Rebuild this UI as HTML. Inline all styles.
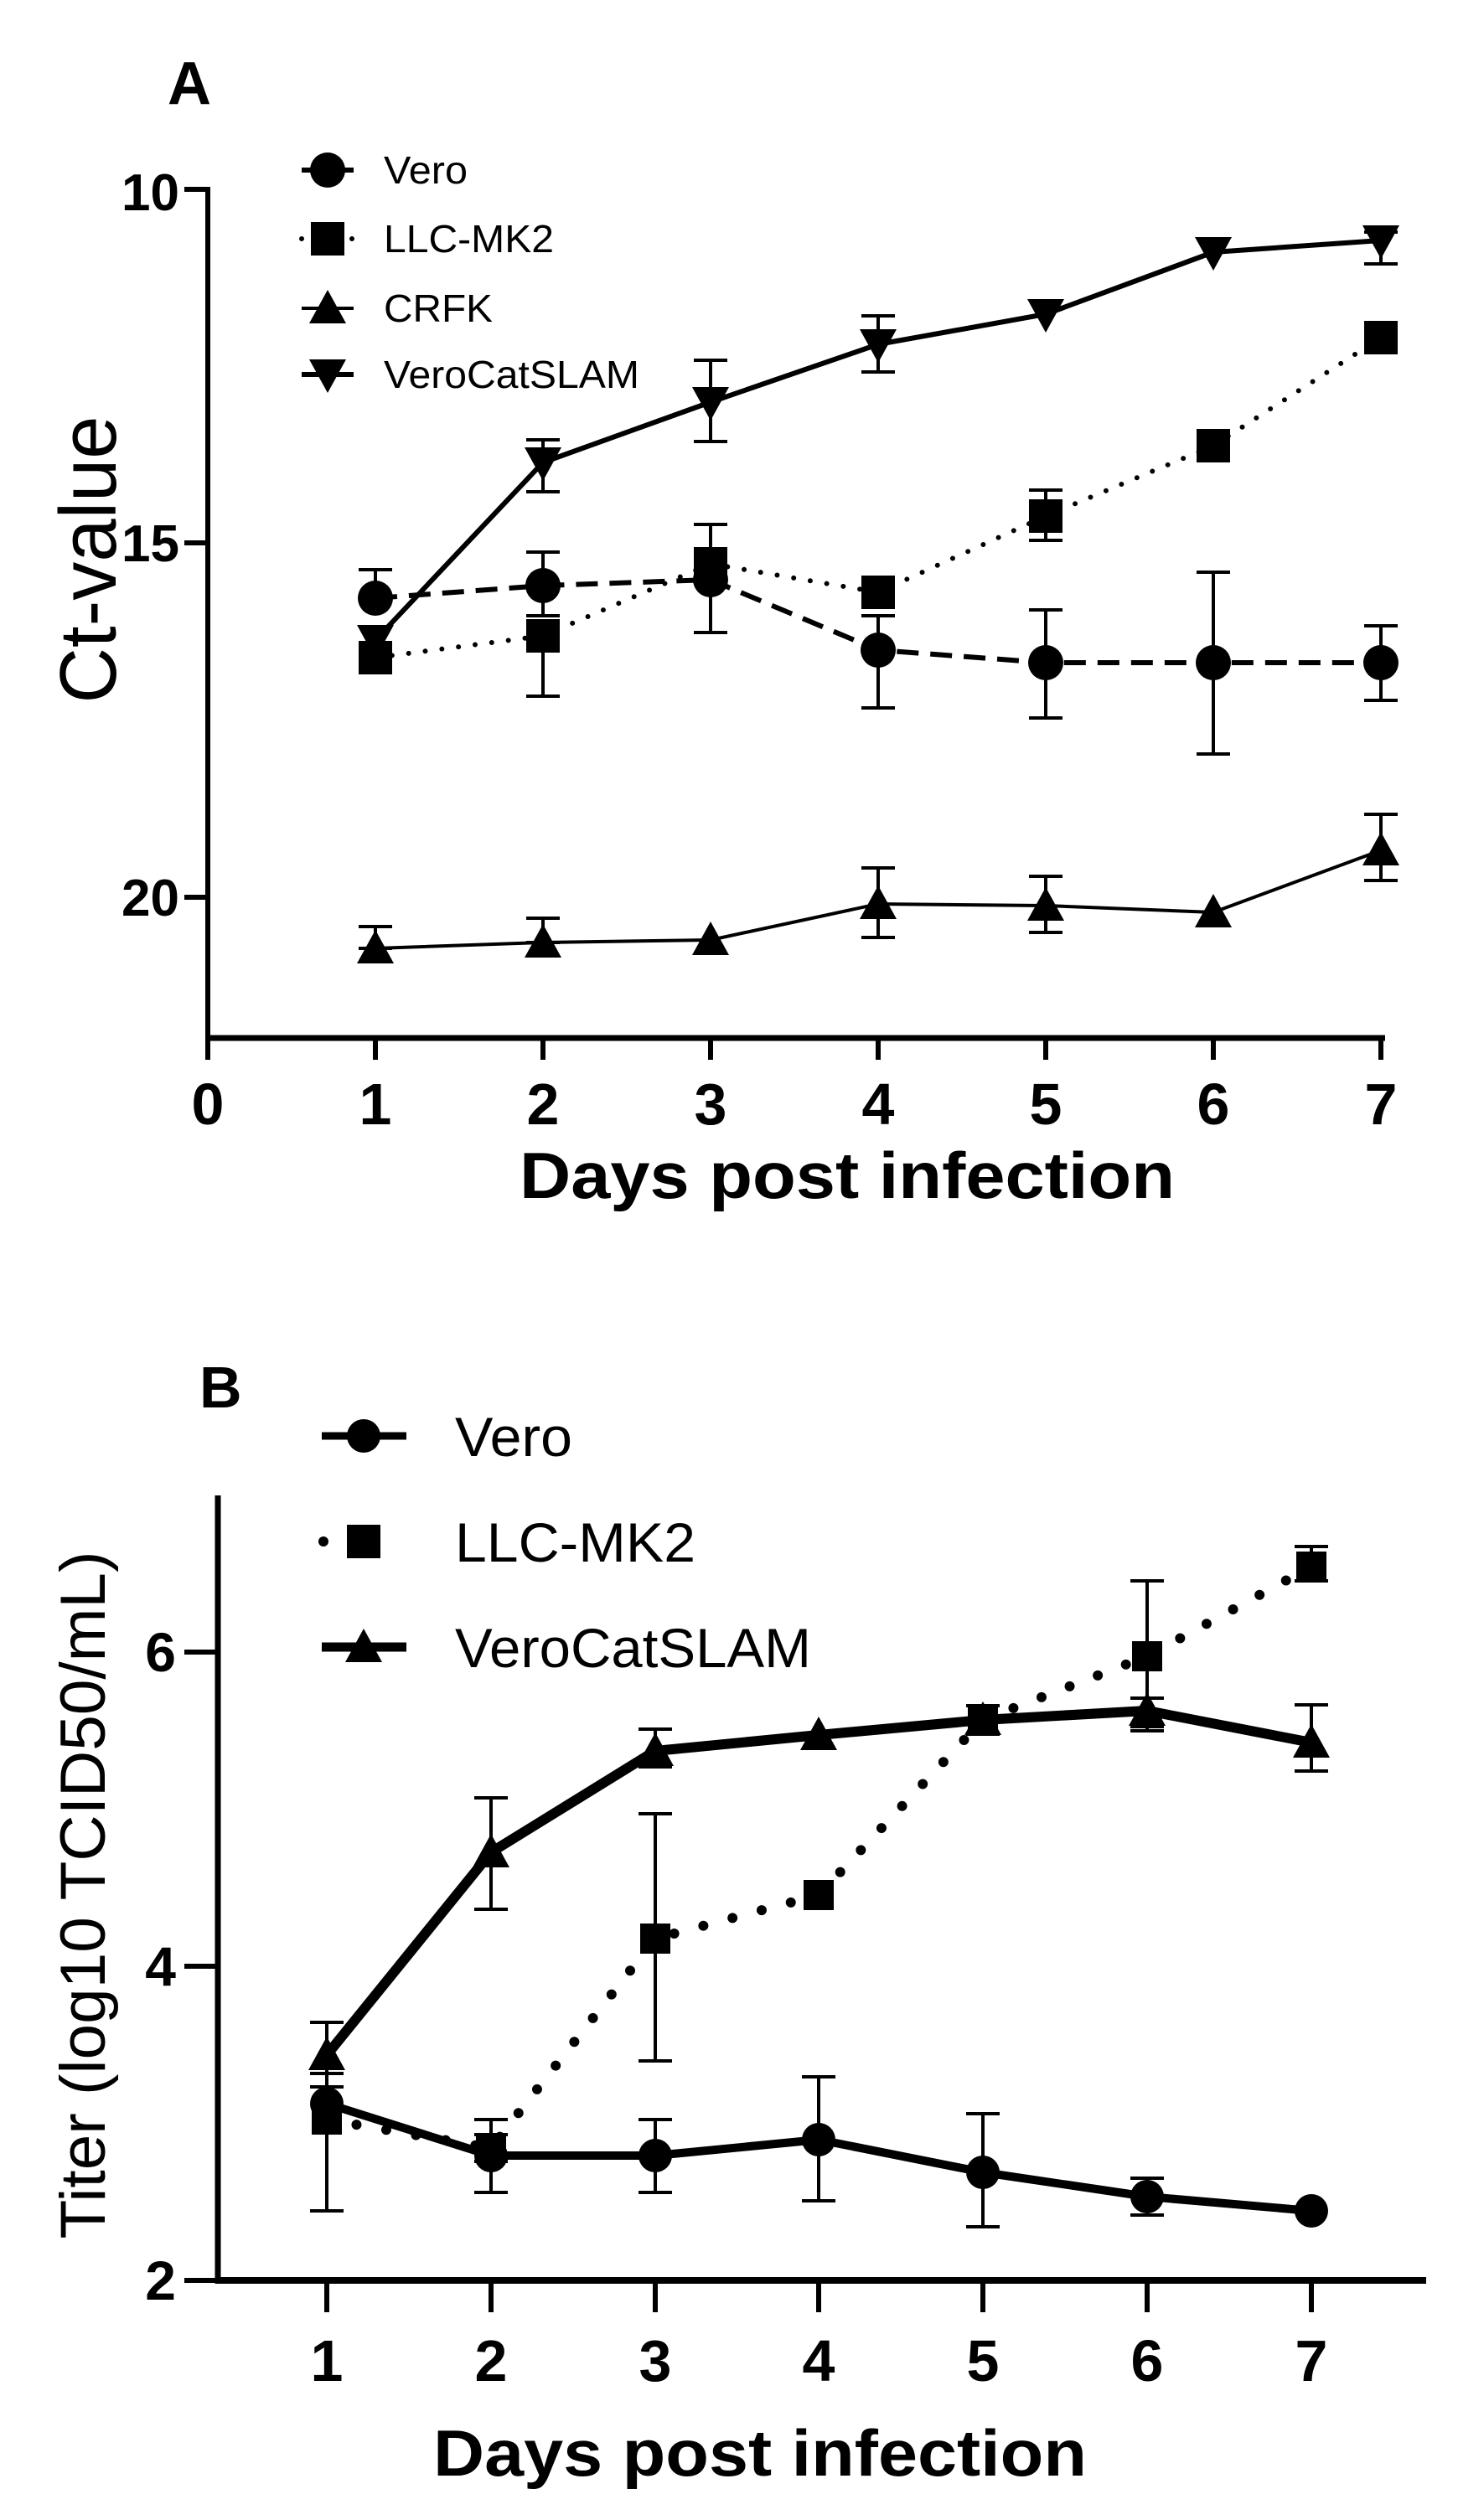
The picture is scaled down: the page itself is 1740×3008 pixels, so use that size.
<!DOCTYPE html>
<html><head><meta charset="utf-8"><style>html,body{margin:0;padding:0;background:#fff}svg{display:block}</style></head>
<body>
<svg id="s" width="1740" height="3008" viewBox="0 0 1740 3008" xmlns="http://www.w3.org/2000/svg" font-family="Liberation Sans, Arial, sans-serif">
<rect width="1740" height="3008" fill="#fff"/>
<!-- Panel A text -->
<text x="200" y="124" font-size="72" font-weight="bold">A</text>
<g font-size="62" font-weight="bold" text-anchor="end">
<text x="214" y="251">10</text><text x="214" y="670">15</text><text x="214" y="1093">20</text>
</g>
<g font-size="70" font-weight="bold" text-anchor="middle">
<text x="248" y="1342">0</text><text x="448" y="1342">1</text><text x="648" y="1342">2</text><text x="848" y="1342">3</text><text x="1048" y="1342">4</text><text x="1248" y="1342">5</text><text x="1448" y="1342">6</text><text x="1648" y="1342">7</text>
</g>
<text x="1011" y="1430" font-size="78" font-weight="bold" text-anchor="middle" textLength="782" lengthAdjust="spacingAndGlyphs">Days post infection</text>
<text transform="translate(138,668) rotate(-90)" font-size="96" text-anchor="middle" textLength="343" lengthAdjust="spacingAndGlyphs">Ct-value</text>
<g font-size="46">
<text x="458" y="219" textLength="100" lengthAdjust="spacingAndGlyphs">Vero</text>
<text x="458" y="301" textLength="203" lengthAdjust="spacingAndGlyphs">LLC-MK2</text>
<text x="458" y="384" textLength="130" lengthAdjust="spacingAndGlyphs">CRFK</text>
<text x="458" y="463" textLength="305" lengthAdjust="spacingAndGlyphs">VeroCatSLAM</text>
</g>
<!-- Panel B text -->
<text x="238" y="1680" font-size="70" font-weight="bold">B</text>
<g font-size="66" font-weight="bold" text-anchor="end">
<text x="210" y="1995">6</text><text x="210" y="2370">4</text><text x="210" y="2745">2</text>
</g>
<g font-size="70" font-weight="bold" text-anchor="middle">
<text x="390" y="2842">1</text><text x="586" y="2842">2</text><text x="782" y="2842">3</text><text x="977" y="2842">4</text><text x="1173" y="2842">5</text><text x="1369" y="2842">6</text><text x="1565" y="2842">7</text>
</g>
<text x="907" y="2955" font-size="78" font-weight="bold" text-anchor="middle" textLength="780" lengthAdjust="spacingAndGlyphs">Days post infection</text>
<text transform="translate(125,2262) rotate(-90)" font-size="76" text-anchor="middle" textLength="821" lengthAdjust="spacingAndGlyphs">Titer (log10 TCID50/mL)</text>
<g font-size="66">
<text x="543" y="1738" textLength="140" lengthAdjust="spacingAndGlyphs">Vero</text>
<text x="543" y="1864" textLength="287" lengthAdjust="spacingAndGlyphs">LLC-MK2</text>
<text x="543" y="1990" textLength="425" lengthAdjust="spacingAndGlyphs">VeroCatSLAM</text>
</g>
<g id="g"></g>
</svg>
<script>
var NS="http://www.w3.org/2000/svg",G=document.getElementById("g");
function el(t,a){var e=document.createElementNS(NS,t);for(var k in a)e.setAttribute(k,a[k]);G.appendChild(e);return e;}
function line(x1,y1,x2,y2,w,extra){var a={x1:x1,y1:y1,x2:x2,y2:y2,stroke:"#000","stroke-width":w};for(var k in extra)a[k]=extra[k];el("line",a);}
function poly(pts,w,extra){var a={points:pts.map(function(p){return p.join(",")}).join(" "),fill:"none",stroke:"#000","stroke-width":w,"stroke-linejoin":"round"};for(var k in extra)a[k]=extra[k];el("polyline",a);}
function mk(type,x,y,s){
 if(type=="c")el("circle",{cx:x,cy:y,r:s/2,fill:"#000"});
 else if(type=="s")el("rect",{x:x-s/2,y:y-s/2,width:s,height:s,fill:"#000"});
 else if(type=="t")el("polygon",{points:(x)+","+(y-s*0.55)+" "+(x-s*0.55)+","+(y+s*0.45)+" "+(x+s*0.55)+","+(y+s*0.45),fill:"#000"});
 else el("polygon",{points:(x)+","+(y+s*0.55)+" "+(x-s*0.55)+","+(y-s*0.45)+" "+(x+s*0.55)+","+(y-s*0.45),fill:"#000"});
}
function err(x,y1,y2,w,cw){line(x,y1,x,y2,w);line(x-cw,y1,x+cw,y1,w);line(x-cw,y2,x+cw,y2,w);}
// ---------- Panel A ----------
line(248,223,248,1242,6);line(245,1239,1653,1239,7);
[226,648,1071].forEach(function(y){line(220,y,248,y,6)});
for(var d=0;d<=7;d++)line(248+200*d,1239,248+200*d,1265,6);
var XA=[448,648,848,1048,1248,1448,1648];
var vero=[714,699,692,776,791,791,791],llc=[785,759,673,707,616,532,403],crfk=[1132,1125,1122,1079,1081,1089,1015],vcs=[764,552,480,411,375,301,287];
function pts(X,Y){return X.map(function(x,i){return [x,Y[i]]});}
[[0,680,714],[1,659,735],[2,626,755],[3,735,845],[4,728,857],[5,683,900],[6,747,836]].forEach(function(e){err(XA[e[0]],e[1],e[2],4,20)});
[[1,745,831],[4,585,645]].forEach(function(e){err(XA[e[0]],e[1],e[2],4,20)});
[[0,1106,1132],[1,1096,1125],[3,1036,1119],[4,1046,1113],[6,972,1051]].forEach(function(e){err(XA[e[0]],e[1],e[2],4,20)});
[[1,525,587],[2,430,527],[3,377,444],[6,277,315]].forEach(function(e){err(XA[e[0]],e[1],e[2],4,20)});
poly(pts(XA,crfk),4);
poly(pts(XA,vcs),6);
poly(pts(XA,vero),6,{"stroke-dasharray":"26 14"});
poly(pts(XA,llc),6,{"stroke-dasharray":"0 20","stroke-linecap":"round"});
XA.forEach(function(x,i){mk("c",x,vero[i],42);mk("s",x,llc[i],40);mk("t",x,crfk[i],40);mk("v",x,vcs[i],40);});
line(360,203,422,203,6);mk("c",391,203,42);
line(360,285,422,285,6,{"stroke-dasharray":"0 20","stroke-linecap":"round"});mk("s",391,285,40);
line(360,368,422,368,4);mk("t",391,368,40);
line(360,447,422,447,6);mk("v",391,447,40);
// ---------- Panel B ----------
line(260,1785,260,2726,7);line(257,2722,1702,2722,8);
[1972,2347,2722].forEach(function(y){line(220,y,260,y,6)});
var XB=[390,586,782,977,1173,1369,1565];
XB.forEach(function(x){line(x,2722,x,2760,6)});
var bv=[2511,2573,2573,2554,2593,2622,2639],bl=[2530,2564,2314,2262,2053,1977,1870],bs=[2453,2211,2090,2071,2053,2042,2080];
[[0,2475,2639],[1,2530,2617],[2,2530,2617],[3,2479,2627],[4,2523,2658],[5,2600,2644]].forEach(function(e){err(XB[e[0]],e[1],e[2],4,20)});
[[2,2165,2460],[5,1887,2061],[6,1846,1887],[4,2036,2070],[1,2548,2580]].forEach(function(e){err(XB[e[0]],e[1],e[2],4,20)});
[[0,2414,2491],[1,2146,2279],[2,2064,2109],[5,2027,2066],[6,2035,2114]].forEach(function(e){err(XB[e[0]],e[1],e[2],4,20)});
poly(pts(XB,bl),12,{"stroke-dasharray":"0 36","stroke-linecap":"round"});
poly(pts(XB,bv),10);
poly(pts(XB,bs),12);
XB.forEach(function(x,i){mk("c",x,bv[i],40);mk("s",x,bl[i],36);mk("t",x,bs[i],40);});
line(384,1714,485,1714,9);mk("c",434,1714,40);
line(386,1840,470,1840,12,{"stroke-dasharray":"0 84","stroke-linecap":"round"});mk("s",434,1840,40);
line(384,1966,485,1966,11);mk("t",434,1966,40);
</script>
</body></html>
